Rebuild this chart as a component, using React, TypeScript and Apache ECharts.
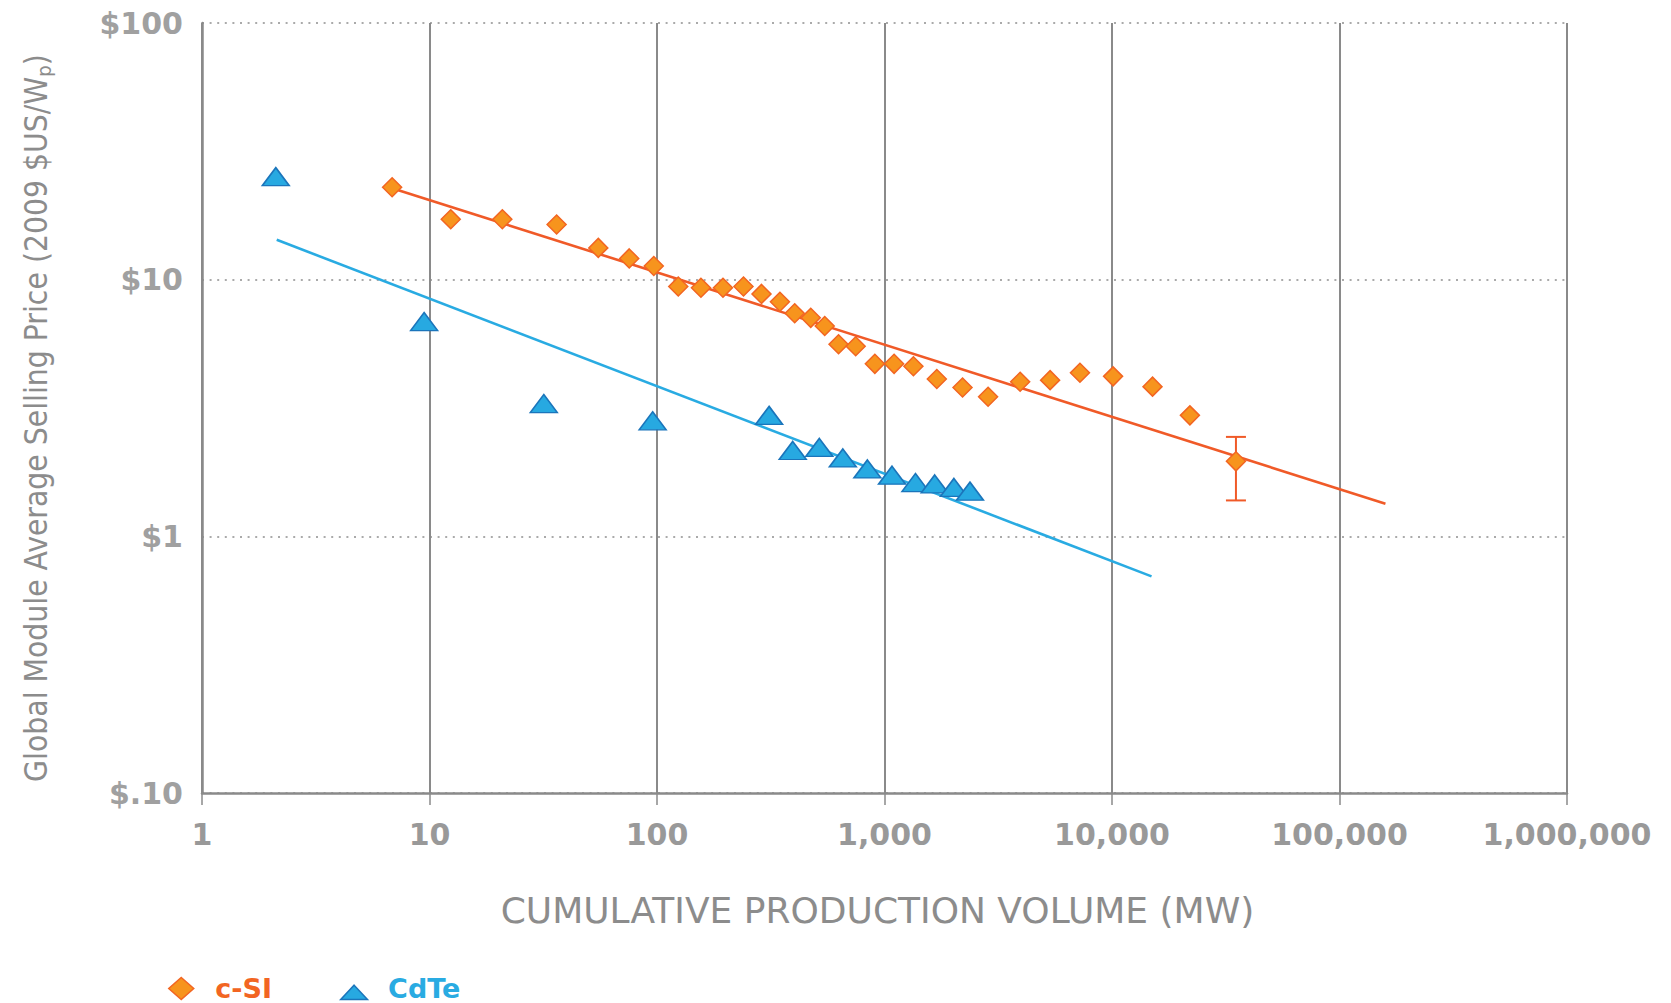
import { useEffect, useRef } from "react";
import * as echarts from "echarts";

// Axis ticks
const xTickValues = [1, 10, 100, 1000, 10000, 100000, 1000000];
const yTickLabels = ["$.10", "$1", "$10", "$100"]; // for 0.1, 1, 10, 100

// c-Si data (cumulative MW, 2009 $US/Wp)
const csiVolume = [6.85, 12.4, 20.9, 36.2, 55.2, 75.5, 96.8, 124, 156, 195, 240, 288, 347, 403, 474, 546, 628, 747, 907, 1102, 1340, 1698, 2203, 2853, 3947, 5345, 7230, 10110, 15070, 22000, 35060];
const csiPrice = [22.9, 17.2, 17.2, 16.4, 13.3, 12.1, 11.3, 9.4, 9.3, 9.3, 9.4, 8.8, 8.2, 7.4, 7.1, 6.6, 5.6, 5.5, 4.7, 4.7, 4.6, 4.1, 3.8, 3.5, 4.0, 4.06, 4.34, 4.2, 3.83, 2.96, 1.96];

// CdTe data
const cdteVolume = [2.11, 9.47, 31.8, 95.7, 311, 395, 517, 656, 841, 1079, 1368, 1662, 2019, 2375];
const cdtePrice = [25.2, 6.87, 3.29, 2.82, 2.96, 2.16, 2.22, 2.02, 1.83, 1.73, 1.62, 1.6, 1.55, 1.5];

// Experience-curve fit lines
const csiFitVolume = [6.85, 159200];
const csiFitPrice = [22.7, 1.34];
const cdteFitVolume = [2.13, 14920];
const cdteFitPrice = [14.3, 0.698];

// Error bar on last c-Si point
const csiErrVolume = [35060];
const csiErrLow = [1.38];
const csiErrHigh = [2.44];

const zip = (a: number[], b: number[]) => a.map((v, i) => [v, b[i]]);

export default function App() {
  const ref = useRef<HTMLDivElement>(null);
  useEffect(() => {
    const chart = echarts.init(ref.current!, null, { renderer: "svg" });
    const orange = "#f7941d";
    const orangeRed = "#f05a28";
    const blueFill = "#27a9e1";
    const blueEdge = "#1b75bb";
    const lightBlue = "#29abe2";
    const gray = "#8c8c8c";
    const option: any = {
      animation: false,
      backgroundColor: "#ffffff",
      grid: { left: 202, right: 104, top: 23, bottom: 210, containLabel: false },
      legend: {
        left: 168,
        top: 975,
        padding: 0,
        itemWidth: 58,
        itemHeight: 22,
        itemGap: 68,
        selectedMode: false,
        textStyle: { fontFamily: "DejaVu Sans", fontWeight: "bold", fontSize: 27, lineHeight: 22 },
        data: [
          {
            name: "c-SI",
            icon: "path://M12.5,0L25,11L12.5,22L0,11Z",
            itemStyle: { color: orange, borderColor: "#f26522", borderWidth: 1.5 },
            textStyle: { color: "#f26522" },
          },
          {
            name: "CdTe",
            icon: "path://M0,0M14,8L28,23L0,23Z",
            itemStyle: { color: blueFill, borderColor: blueEdge, borderWidth: 1.5 },
            textStyle: { color: lightBlue },
          },
        ],
      },
      xAxis: {
        type: "log",
        logBase: 10,
        min: xTickValues[0],
        max: xTickValues[xTickValues.length - 1],
        name: "CUMULATIVE PRODUCTION VOLUME (MW)",
        nameLocation: "middle",
        nameGap: 99,
        nameTextStyle: { fontFamily: "DejaVu Sans", fontSize: 36, color: gray, padding: [0, 14, 0, 0] },
        axisLine: { show: true, lineStyle: { color: "#8a8a8a", width: 2.5 } },
        axisTick: { show: true, length: 12, lineStyle: { color: "#8a8a8a", width: 1.5 } },
        axisLabel: {
          margin: 26,
          fontFamily: "DejaVu Sans",
          fontWeight: "bold",
          fontSize: 30,
          color: "#999999",
          formatter: (v: number) => Math.round(v).toLocaleString("en-US"),
        },
        splitLine: { show: true, lineStyle: { color: "#8a8a8a", width: 2 } },
        minorTick: { show: false },
      },
      yAxis: {
        type: "log",
        logBase: 10,
        min: 0.1,
        max: 100,
        name: "Global Module Average Selling Price (2009 $US/W{p|p})",
        nameLocation: "middle",
        nameGap: 148,
        nameTextStyle: {
          fontFamily: "'DejaVu Sans Condensed', 'DejaVu Sans'",
          fontSize: 31.5,
          lineHeight: 36,
          color: gray,
          padding: [0, 20, 0, 0],
          rich: {
            p: { fontFamily: "'DejaVu Sans Condensed', 'DejaVu Sans'", fontSize: 20, lineHeight: 10, verticalAlign: "bottom", color: gray },
          },
        },
        axisLine: { show: true, lineStyle: { color: "#8a8a8a", width: 2.5 } },
        axisTick: { show: false },
        axisLabel: {
          margin: 19,
          fontFamily: "DejaVu Sans",
          fontWeight: "bold",
          fontSize: 30,
          color: "#a0a0a0",
          formatter: (v: number) => yTickLabels[Math.round(Math.log10(v)) + 1] ?? "",
        },
        splitLine: { show: true, lineStyle: { color: "#8f8f8f", width: 1.6, type: [2, 5.6] } },
      },
      series: [
        {
          name: "c-SI fit",
          type: "line",
          data: zip(csiFitVolume, csiFitPrice),
          showSymbol: false,
          symbol: "none",
          lineStyle: { color: orangeRed, width: 2.6 },
          z: 1,
          silent: true,
        },
        {
          name: "CdTe fit",
          type: "line",
          data: zip(cdteFitVolume, cdteFitPrice),
          showSymbol: false,
          symbol: "none",
          lineStyle: { color: lightBlue, width: 2.6 },
          z: 1,
          silent: true,
        },
        {
          name: "c-SI error",
          type: "custom",
          data: csiErrVolume.map((v, i) => [v, csiErrLow[i], csiErrHigh[i]]),
          encode: { x: 0, y: [1, 2] },
          z: 2,
          renderItem: (_params: any, api: any) => {
            const x = api.value(0);
            const lo = api.coord([x, api.value(1)]);
            const hi = api.coord([x, api.value(2)]);
            const cap = 10;
            const style = { stroke: orangeRed, lineWidth: 2, fill: null };
            return {
              type: "group",
              children: [
                { type: "line", shape: { x1: lo[0], y1: lo[1], x2: hi[0], y2: hi[1] }, style },
                { type: "line", shape: { x1: hi[0] - cap, y1: hi[1], x2: hi[0] + cap, y2: hi[1] }, style },
                { type: "line", shape: { x1: lo[0] - cap, y1: lo[1], x2: lo[0] + cap, y2: lo[1] }, style },
              ],
            };
          },
        },
        {
          name: "c-SI",
          type: "scatter",
          data: zip(csiVolume, csiPrice),
          symbol: "diamond",
          symbolSize: [19, 19],
          itemStyle: { color: orange, borderColor: "#f26522", borderWidth: 1.5, opacity: 1 },
          z: 3,
        },
        {
          name: "CdTe",
          type: "scatter",
          data: zip(cdteVolume, cdtePrice),
          symbol: "triangle",
          symbolSize: [27, 18],
          itemStyle: { color: blueFill, borderColor: blueEdge, borderWidth: 1.5, opacity: 1 },
          z: 3,
        },
      ],
    };
    chart.setOption(option);
    return () => chart.dispose();
  }, []);
  return (
    <div
      ref={ref}
      style={{ position: "absolute", left: 0, top: 0, width: 1671, height: 1003, background: "#ffffff" }}
    />
  );
}
